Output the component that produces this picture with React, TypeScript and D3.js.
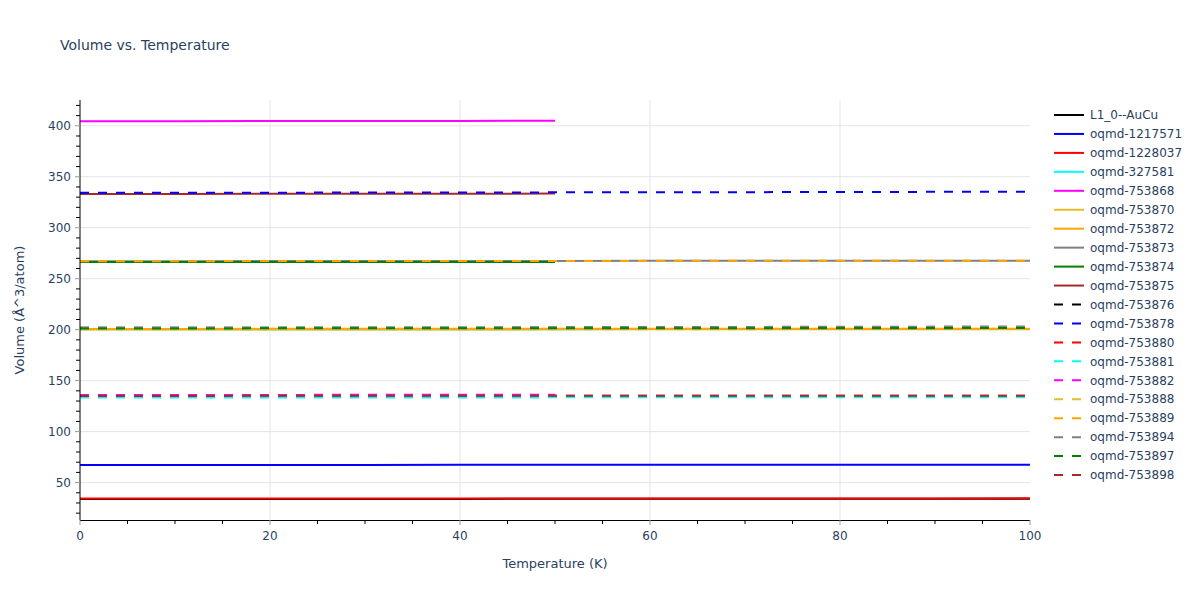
import React from "react";
import * as d3 from "d3";

const tempsFull = [0, 10, 20, 30, 40, 50, 60, 70, 80, 90, 100];
const tempsHalf = [0, 10, 20, 30, 40, 50];

const names = [
  "L1_0--AuCu", "oqmd-1217571", "oqmd-1228037", "oqmd-327581", "oqmd-753868",
  "oqmd-753870", "oqmd-753872", "oqmd-753873", "oqmd-753874", "oqmd-753875",
  "oqmd-753876", "oqmd-753878", "oqmd-753880", "oqmd-753881", "oqmd-753882",
  "oqmd-753888", "oqmd-753889", "oqmd-753894", "oqmd-753897", "oqmd-753898",
];

const colors = [
  "#000000", "#0000ff", "#ff0000", "#00ffff", "#ff00ff",
  "#e6bd2e", "#ffa500", "#808080", "#008000", "#a52a2a",
  "#000000", "#0000ff", "#ff0000", "#00ffff", "#ff00ff",
  "#e6bd2e", "#ffa500", "#808080", "#008000", "#a52a2a",
];

const dashed = [
  false, false, false, false, false, false, false, false, false, false,
  true, true, true, true, true, true, true, true, true, true,
];

const vL10 = [34.0, 34.0, 34.0, 34.0, 34.0, 34.1, 34.1, 34.1, 34.1, 34.1, 34.2];
const v1217571 = [67.3, 67.3, 67.3, 67.3, 67.4, 67.4, 67.4, 67.4, 67.5, 67.5, 67.5];
const v1228037 = [34.4, 34.4, 34.4, 34.4, 34.4, 34.5, 34.5, 34.5, 34.5, 34.5, 34.6];
const v327581 = [200.4, 200.4, 200.4, 200.5, 200.5, 200.5, 200.6, 200.6, 200.6, 200.7, 200.7];
const v753868 = [404.4, 404.5, 404.6, 404.7, 404.8, 404.9];
const v753870 = [200.1, 200.1, 200.2, 200.2, 200.2, 200.3, 200.3, 200.3, 200.4, 200.4, 200.4];
const v753872 = [200.7, 200.7, 200.8, 200.8, 200.8, 200.9, 200.9, 200.9, 201.0, 201.0, 201.0];
const v753873 = [267.2, 267.2, 267.3, 267.3, 267.4, 267.4, 267.5, 267.5, 267.6, 267.6, 267.7];
const v753874 = [266.3, 266.3, 266.4, 266.4, 266.5, 266.5];
const v753875 = [333.2, 333.2, 333.3, 333.4, 333.4, 333.5];
const v753876 = [201.8, 201.8, 201.9, 201.9, 202.0, 202.0, 202.1, 202.1, 202.2, 202.2, 202.3];
const v753878 = [334.2, 334.3, 334.4, 334.5, 334.6, 334.7, 334.8, 334.9, 335.0, 335.2, 335.3];
const v753880 = [135.0, 135.0, 135.1, 135.1, 135.1, 135.2, 135.2, 135.2, 135.3, 135.3, 135.3];
const v753881 = [133.4, 133.4, 133.5, 133.5, 133.5, 133.6, 133.6, 133.6, 133.7, 133.7, 133.7];
const v753882 = [135.9, 136.0, 136.0, 136.1, 136.1, 136.2];
const v753888 = [200.3, 200.3, 200.4, 200.4, 200.4, 200.5, 200.5, 200.5, 200.6, 200.6, 200.6];
const v753889 = [267.2, 267.2, 267.3, 267.3, 267.4, 267.4, 267.5, 267.5, 267.6, 267.6, 267.7];
const v753894 = [201.8, 201.9, 202.0, 202.1, 202.2, 202.4, 202.5, 202.7, 202.9, 203.0, 203.2];
const v753897 = [201.2, 201.2, 201.3, 201.3, 201.3, 201.4, 201.4, 201.4, 201.5, 201.5, 201.6];
const v753898 = [135.0, 135.0, 135.1, 135.1, 135.1, 135.2, 135.2, 135.2, 135.3, 135.3, 135.3];

const values = [
  vL10, v1217571, v1228037, v327581, v753868, v753870, v753872, v753873, v753874, v753875,
  v753876, v753878, v753880, v753881, v753882, v753888, v753889, v753894, v753897, v753898,
];

const xTicks = [0, 20, 40, 60, 80, 100];
const yTicks = [50, 100, 150, 200, 250, 300, 350, 400];

const W = 1200;
const H = 600;
const L = 80;
const R = 1030;
const T = 100;
const B = 520;
const FONT = '"DejaVu Sans", Verdana, sans-serif';
const TXT = "#2a3f5f";

export default function App() {
  const x = d3.scaleLinear().domain([0, 100]).range([L, R]);
  const y = d3.scaleLinear().domain([13.3, 425.3]).range([B, T]);
  const line = d3
    .line<[number, number]>()
    .x((d) => x(d[0]))
    .y((d) => y(d[1]));

  const xMinor = d3.range(0, 101, 5).filter((v) => v % 20 !== 0);
  const yMinor = d3.range(20, 421, 10).filter((v) => v % 50 !== 0);

  const series = names.map((n, i) => {
    const vals = values[i];
    const ts = vals.length === tempsFull.length ? tempsFull : tempsHalf;
    return { name: n, color: colors[i], dashed: dashed[i], pts: ts.map((t, k) => [t, vals[k]] as [number, number]) };
  });

  return (
    <svg width={W} height={H} style={{ position: "absolute", left: 0, top: 0, background: "#fff" }}>
      <rect x={0} y={0} width={W} height={H} fill="#fff" />
      <text x={60} y={50} fontFamily={FONT} fontSize={14} fill={TXT}>
        Volume vs. Temperature
      </text>
      {/* grid */}
      {xTicks.filter((v) => v > 0 && v < 100).map((v) => (
        <line key={"gx" + v} x1={x(v)} x2={x(v)} y1={T} y2={B} stroke="#e5e5e5" strokeWidth={1} />
      ))}
      {yTicks.map((v) => (
        <line key={"gy" + v} x1={L} x2={R} y1={y(v)} y2={y(v)} stroke="#e5e5e5" strokeWidth={1} />
      ))}
      {/* series */}
      <g>
        {series.map((s) => (
          <path
            key={s.name}
            d={line(s.pts) || ""}
            fill="none"
            stroke={s.color}
            strokeWidth={2}
            strokeDasharray={s.dashed ? "9,9" : undefined}
          />
        ))}
      </g>
      {/* axes */}
      <line x1={L} x2={L} y1={T} y2={B} stroke="#000" strokeWidth={1} />
      <line x1={L} x2={R} y1={B + 0.5} y2={B + 0.5} stroke="#000" strokeWidth={1} />
      {yTicks.map((v) => (
        <g key={"yt" + v}>
          <line x1={L - 5} x2={L} y1={y(v)} y2={y(v)} stroke="#999" strokeWidth={1} />
          <text x={L - 9} y={y(v)} dy="0.35em" textAnchor="end" fontFamily={FONT} fontSize={12} fill={TXT}>
            {v}
          </text>
        </g>
      ))}
      {yMinor.map((v) => (
        <line key={"ym" + v} x1={L - 4} x2={L} y1={y(v)} y2={y(v)} stroke="#000" strokeWidth={1} />
      ))}
      {xTicks.map((v) => (
        <g key={"xt" + v}>
          <line x1={x(v)} x2={x(v)} y1={B} y2={B + 5} stroke="#999" strokeWidth={1} />
          <text x={x(v)} y={B + 20} textAnchor="middle" fontFamily={FONT} fontSize={12} fill={TXT}>
            {v}
          </text>
        </g>
      ))}
      {xMinor.map((v) => (
        <line key={"xm" + v} x1={x(v)} x2={x(v)} y1={B} y2={B + 4} stroke="#000" strokeWidth={1} />
      ))}
      <text x={(L + R) / 2} y={568} textAnchor="middle" fontFamily={FONT} fontSize={13} fill={TXT}>
        Temperature (K)
      </text>
      <text
        transform={`translate(24,${(T + B) / 2}) rotate(-90)`}
        textAnchor="middle"
        fontFamily={FONT}
        fontSize={13}
        fill={TXT}
      >
        Volume (Å^3/atom)
      </text>
      {/* legend */}
      {series.map((s, i) => {
        const ly = 115 + i * 18.95;
        return (
          <g key={"lg" + s.name}>
            <line
              x1={1054}
              x2={1084}
              y1={ly}
              y2={ly}
              stroke={s.color}
              strokeWidth={2}
              strokeDasharray={s.dashed ? "9,9" : undefined}
            />
            <text x={1090} y={ly} dy="0.35em" fontFamily={FONT} fontSize={12} fill={TXT}>
              {s.name}
            </text>
          </g>
        );
      })}
    </svg>
  );
}
